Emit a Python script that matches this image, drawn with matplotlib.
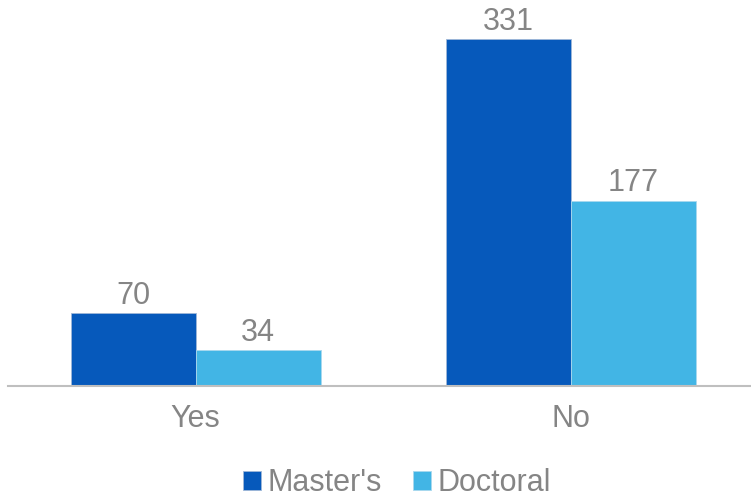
import matplotlib.pyplot as plt
import numpy as np

plt.rcParams['font.family'] = ['Liberation Sans', 'DejaVu Sans']

categories = ['Yes', 'No']
masters = [70, 331]
doctoral = [34, 177]
series_names = ["Master's", 'Doctoral']
colors = ['#0659BB', '#42B5E5']
text_gray = '#858585'

fig = plt.figure(figsize=(7.51, 4.97), dpi=100)
ax = fig.add_axes([8 / 751, 111 / 497, 743 / 751, 366 / 497])

x = np.arange(len(categories))
w = 1 / 3
b1 = ax.bar(x - w / 2, masters, w, color=colors[0], edgecolor='#9FB8D8', linewidth=0.6, label=series_names[0])
b2 = ax.bar(x + w / 2, doctoral, w, color=colors[1], edgecolor='#A9D8EE', linewidth=0.6, label=series_names[1])

# value labels above bars
for bars in (b1, b2):
    for r in bars:
        ax.annotate(str(int(r.get_height())), (r.get_x() + r.get_width() / 2, r.get_height()),
                    xytext=(0, 1.5), textcoords='offset points', ha='center', va='bottom',
                    fontsize=22, color=text_gray)

ax.set_xlim(-0.5, 1.5 - 7 / 375)
ax.set_ylim(0, 366 / 1.048)
ax.set_xticks(x)
ax.set_xticklabels(categories, fontsize=22, color=text_gray)
ax.tick_params(axis='x', length=0, pad=13)
ax.set_yticks([])
for s in ['top', 'right', 'left']:
    ax.spines[s].set_visible(False)
ax.spines['bottom'].set_color('#BFBFBF')
ax.spines['bottom'].set_linewidth(1.5)

leg = fig.legend(loc='center', bbox_to_anchor=(397 / 751, 1 - 483 / 497), ncol=2, frameon=False,
                 fontsize=22, handlelength=0.58, handleheight=0.6, handletextpad=0.22,
                 columnspacing=1.0)
for t in leg.get_texts():
    t.set_color(text_gray)

fig.savefig('out.png', dpi=100)
